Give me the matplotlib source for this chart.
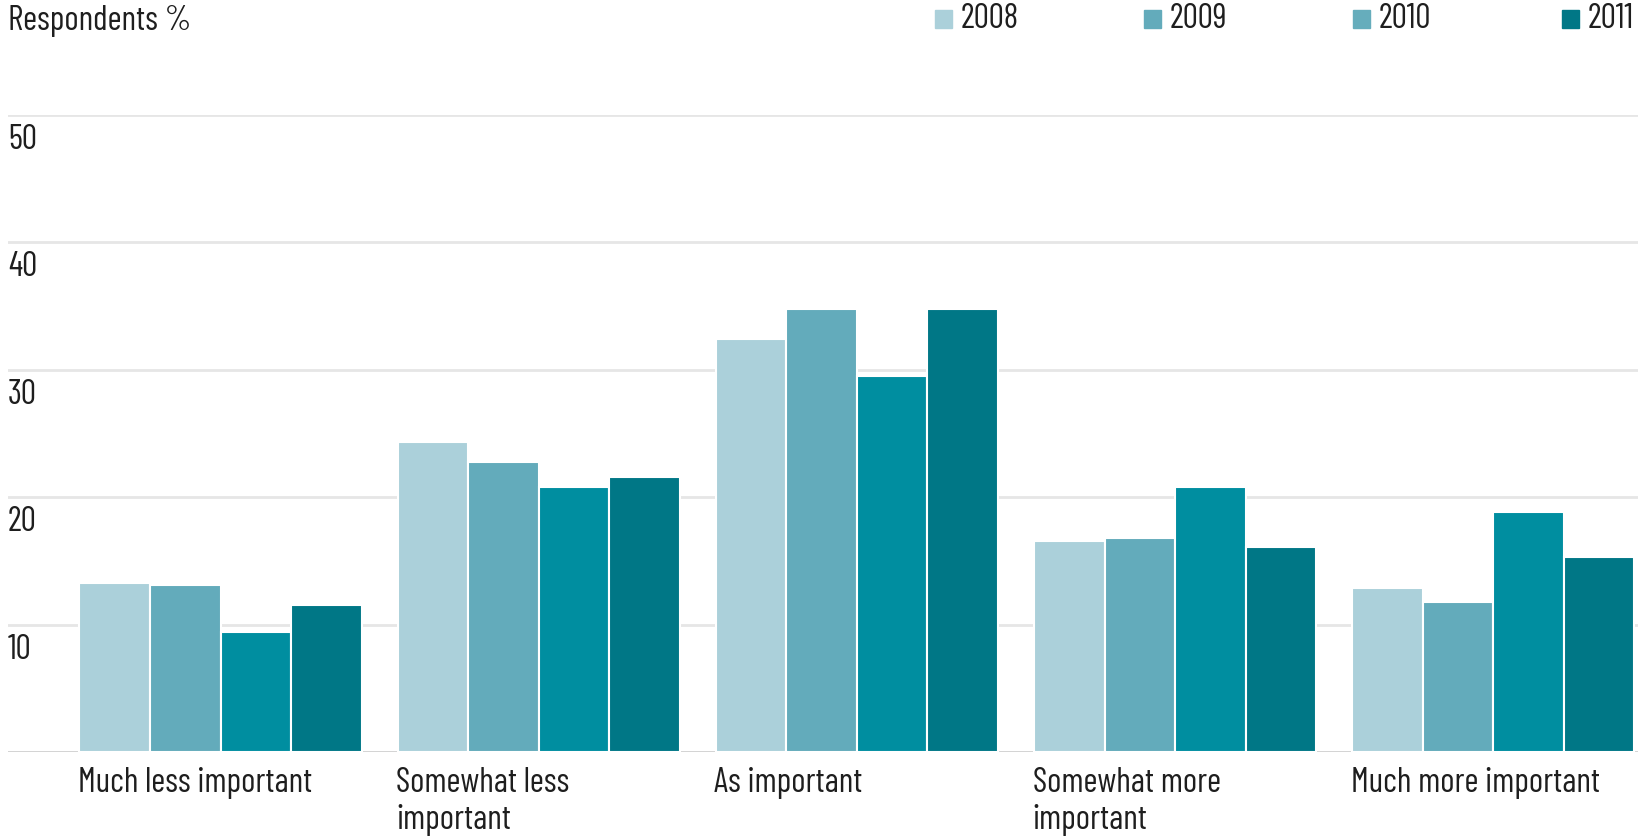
import matplotlib
matplotlib.use("Agg")
import matplotlib.pyplot as plt
from matplotlib.patches import Rectangle
import numpy as np

plt.rcParams['font.family'] = ['Barlow Condensed', 'DejaVu Sans']

# --- data ---
categories = ["Much less important", "Somewhat less\nimportant", "As important",
              "Somewhat more\nimportant", "Much more important"]
years = ["2008", "2009", "2010", "2011"]
values = {
    "2008": [13.3, 24.3, 32.4, 16.6, 12.9],
    "2009": [13.1, 22.8, 34.8, 16.8, 11.8],
    "2010": [9.4, 20.8, 29.5, 20.8, 18.8],
    "2011": [11.5, 21.6, 34.8, 16.1, 15.3],
}
y_ticks = [10, 20, 30, 40, 50]

# --- style ---
bar_colors = ["#abd0da", "#63abbb", "#008ea0", "#007786"]
legend_colors = ["#abd0da", "#63abbb", "#66adbc", "#007786"]
text_color = "#1e1e1e"
font_size = 24.5

W, H = 1638, 836
fig = plt.figure(figsize=(W / 100, H / 100), dpi=100)
ax = fig.add_axes([8 / W, 1 - 752 / H, 1 - 8 / W, (752 - 115) / H])

n_years = len(years)
bar_w = 0.2217
x = np.arange(len(categories))
for k, yr in enumerate(years):
    ax.bar(x + (k - (n_years - 1) / 2) * bar_w, values[yr], width=bar_w,
           color=bar_colors[k], edgecolor="white", linewidth=1.5, zorder=3)

ax.set_xlim(-0.668, 4.455)
ax.set_ylim(0, 50)

# gridlines and baseline
for v in y_ticks:
    ax.axhline(v, color="#e6e6e6", linewidth=2, zorder=1)
ax.axhline(0, color="#cfcfcf", linewidth=2, zorder=2)

for s in ax.spines.values():
    s.set_visible(False)
ax.set_xticks([])
ax.set_yticks([])

# y labels sit just below their gridlines
for v in y_ticks:
    ax.annotate(str(v), xy=(0, v), xycoords=("axes fraction", "data"),
                xytext=(0, -18), textcoords="offset points",
                ha="left", va="center", fontsize=font_size, color=text_color)

# category labels, left-aligned with each group of bars
group_half = n_years / 2 * bar_w
for i, cat in enumerate(categories):
    ax.annotate(cat, xy=(i - group_half, 0), xycoords="data",
                xytext=(-1, -11), textcoords="offset points",
                ha="left", va="top", fontsize=font_size, color=text_color,
                linespacing=1.2, annotation_clip=False)

# axis title
fig.text(8.4 / W, 1 - 21 / H, "Respondents %", ha="left", va="center",
         fontsize=font_size, color=text_color)

# legend row
sw = 17
for k, yr in enumerate(years):
    x0 = 935 + k * 209
    fig.patches.append(Rectangle((x0 / W, 1 - (19 + sw / 2) / H), sw / W, sw / H,
                                 transform=fig.transFigure, color=legend_colors[k]))
    fig.text((x0 + 26) / W, 1 - 19 / H, yr, ha="left", va="center",
             fontsize=font_size, color=text_color)

fig.savefig("out.png", dpi=100, facecolor="white")
